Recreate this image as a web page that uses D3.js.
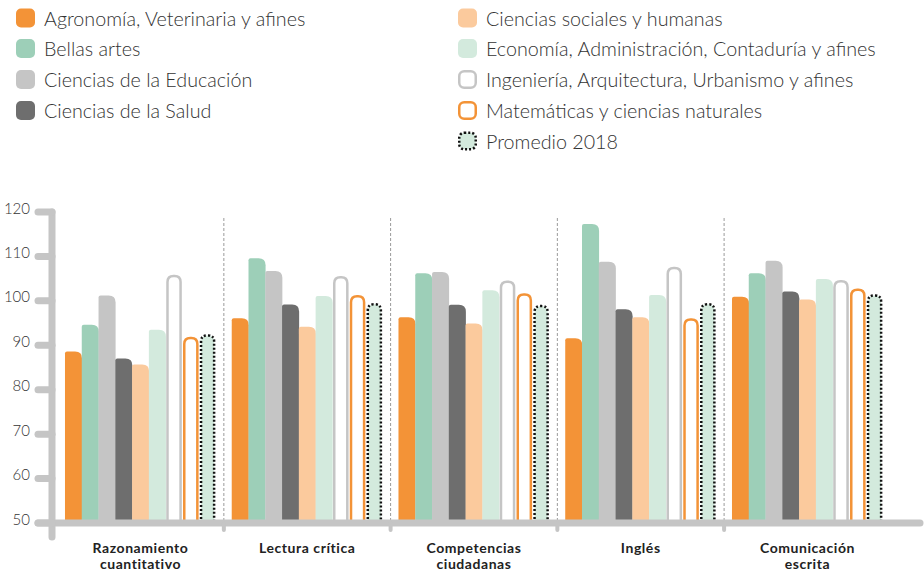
<!DOCTYPE html>
<html>
<head>
<meta charset="utf-8">
<script src="https://cdn.jsdelivr.net/npm/d3@7"></script>
<style>
  html, body { margin: 0; padding: 0; background: #fff; }
  svg { display: block; }
</style>
</head>
<body>
<svg id="chart" width="924" height="571"></svg>
<script>
const categories = [
  ["Razonamiento", "cuantitativo"],
  ["Lectura crítica"],
  ["Competencias", "ciudadanas"],
  ["Inglés"],
  ["Comunicación", "escrita"]
];
const series = [
  "Agronomía, Veterinaria y afines",
  "Bellas artes",
  "Ciencias de la Educación",
  "Ciencias de la Salud",
  "Ciencias sociales y humanas",
  "Economía, Administración, Contaduría y afines",
  "Ingeniería, Arquitectura, Urbanismo y afines",
  "Matemáticas y ciencias naturales",
  "Promedio 2018"
];
// values[series][category]
const agronomia   = [88.6, 96.1, 96.3, 91.6, 100.9];
const bellasArtes = [94.6, 109.6, 106.2, 117.3, 106.2];
const educacion   = [101.2, 106.7, 106.5, 108.8, 109.0];
const salud       = [87.0, 99.2, 99.1, 98.1, 102.1];
const sociales    = [85.7, 94.2, 94.9, 96.3, 100.3];
const economia    = [93.5, 101.1, 102.4, 101.3, 104.9];
const ingenieria  = [105.9, 105.6, 104.6, 107.7, 104.7];
const matematicas = [91.9, 101.3, 101.7, 96.1, 102.8];
const promedio    = [92.5, 99.5, 99.1, 99.5, 101.5];
const seriesValues = [agronomia, bellasArtes, educacion, salud, sociales, economia, ingenieria, matematicas, promedio];
const yTicks = [50, 60, 70, 80, 90, 100, 110, 120];

const styles = [
  {fill: "#F39337", stroke: null},
  {fill: "#9DCFB8", stroke: null},
  {fill: "#C5C5C5", stroke: null},
  {fill: "#6E6E6E", stroke: null},
  {fill: "#FBCA9D", stroke: null},
  {fill: "#D3EADD", stroke: null},
  {fill: "#FFFFFF", stroke: "#C5C5C5", dash: null},
  {fill: "#FFFFFF", stroke: "#F39337", dash: null},
  {fill: "#D3EADD", stroke: "#111111", dash: "2,2"}
];

const svg = d3.select("#chart");
const FONT = "Lato, 'Open Sans', sans-serif";

// ---------- Legend ----------
const legCols = [{x: 16, items: [0,1,2,3]}, {x: 458, items: [4,5,6,7,8]}];
const rowY = [18, 48.5, 79.5, 110.5, 141];
legCols.forEach(col => {
  col.items.forEach((si, r) => {
    const g = svg.append("g").attr("transform", `translate(${col.x},${rowY[r]})`);
    const st = styles[si];
    if (st.stroke) {
      g.append("rect").attr("x", 1.25).attr("y", -8.25).attr("width", 16.5).attr("height", 16.5)
        .attr("rx", 5).attr("fill", st.fill).attr("stroke", st.stroke).attr("stroke-width", 2.5)
        .attr("stroke-dasharray", st.dash);
    } else {
      g.append("rect").attr("x", 0).attr("y", -9.5).attr("width", 19).attr("height", 19)
        .attr("rx", 5).attr("fill", st.fill);
    }
    g.append("text").attr("x", 28).attr("y", 0).attr("dy", "0.4em")
      .attr("font-family", FONT).attr("font-weight", 300).attr("font-size", 19.7)
      .attr("fill", "#333").text(series[si]);
  });
});

// ---------- Scales ----------
const y = d3.scaleLinear().domain([50, 120]).range([523, 212]);
const pIn = 0.0945;
const x0 = d3.scaleBand().domain(d3.range(categories.length)).range([57.1, 890.85])
  .paddingInner(pIn).paddingOuter(pIn / 2);
const x1 = d3.scaleBand().domain(d3.range(series.length)).range([0, x0.bandwidth()]);

const gridColor = "#C5C5C5";

// dashed separators
const seps = d3.range(1, categories.length).map(i => x0(i) - x0.step() * pIn / 2);
svg.append("g").selectAll("line").data(seps).join("line")
  .attr("x1", d => d).attr("x2", d => d).attr("y1", 218).attr("y2", y(50))
  .attr("stroke", "#9a9a9a").attr("stroke-width", 1).attr("stroke-dasharray", "3,2");

// ---------- Bars ----------
function barPath(x, w, top, bottom, rl, rr) {
  return `M${x},${bottom} L${x},${top + rl} Q${x},${top} ${x + rl},${top} L${x + w - rr},${top} Q${x + w},${top} ${x + w},${top + rr} L${x + w},${bottom}`;
}
const bars = svg.append("g");
seriesValues.forEach((vals, si) => {
  const st = styles[si];
  vals.forEach((v, ci) => {
    const bx = x0(ci) + x1(si);
    const bw = x1.bandwidth();
    if (st.stroke) {
      const sw = 2.5;
      bars.append("path")
        .attr("d", barPath(bx + sw / 2 + 0.6, bw - sw - 1.2, y(v) + sw / 2, y(50), 6, 6) + " Z")
        .attr("fill", st.fill).attr("stroke", st.stroke).attr("stroke-width", sw)
        .attr("stroke-dasharray", st.dash);
    } else {
      bars.append("path")
        .attr("d", barPath(bx, bw + 0.3, y(v), y(50), 2, 7) + " Z")
        .attr("fill", st.fill);
    }
  });
});

// ---------- Axes ----------
const axis = svg.append("g").attr("stroke", gridColor).attr("stroke-linecap", "round");
axis.append("line").attr("x1", 52).attr("x2", 52).attr("y1", y(120)).attr("y2", 537).attr("stroke-width", 7);
axis.append("line").attr("x1", 38).attr("x2", 920).attr("y1", y(50)).attr("y2", y(50)).attr("stroke-width", 7);
axis.selectAll(".tk").data(yTicks).join("line").attr("class", "tk")
  .attr("x1", 38).attr("x2", 52).attr("y1", d => y(d)).attr("y2", d => y(d)).attr("stroke-width", 7);
axis.selectAll(".sp").data(seps).join("line").attr("class", "sp")
  .attr("x1", d => d).attr("x2", d => d).attr("y1", y(50)).attr("y2", 530).attr("stroke-width", 4);

svg.append("g").selectAll("text").data(yTicks).join("text")
  .attr("x", 30).attr("y", d => y(d)).attr("dy", "0.1em").attr("text-anchor", "end")
  .attr("font-family", FONT).attr("font-weight", 300).attr("font-size", 15).attr("fill", "#333")
  .text(d => d);

// category labels
const cl = svg.append("g");
categories.forEach((lines, ci) => {
  const cx = x0(ci) + x0.bandwidth() / 2;
  lines.forEach((ln, i) => cl.append("text").attr("x", cx).attr("y", 552.5 + i * 16.3)
    .attr("text-anchor", "middle")
    .attr("font-family", FONT).attr("font-weight", 700).attr("font-size", 14)
    .attr("letter-spacing", 0.55).attr("fill", "#222").text(ln));
});
</script>
</body>
</html>
